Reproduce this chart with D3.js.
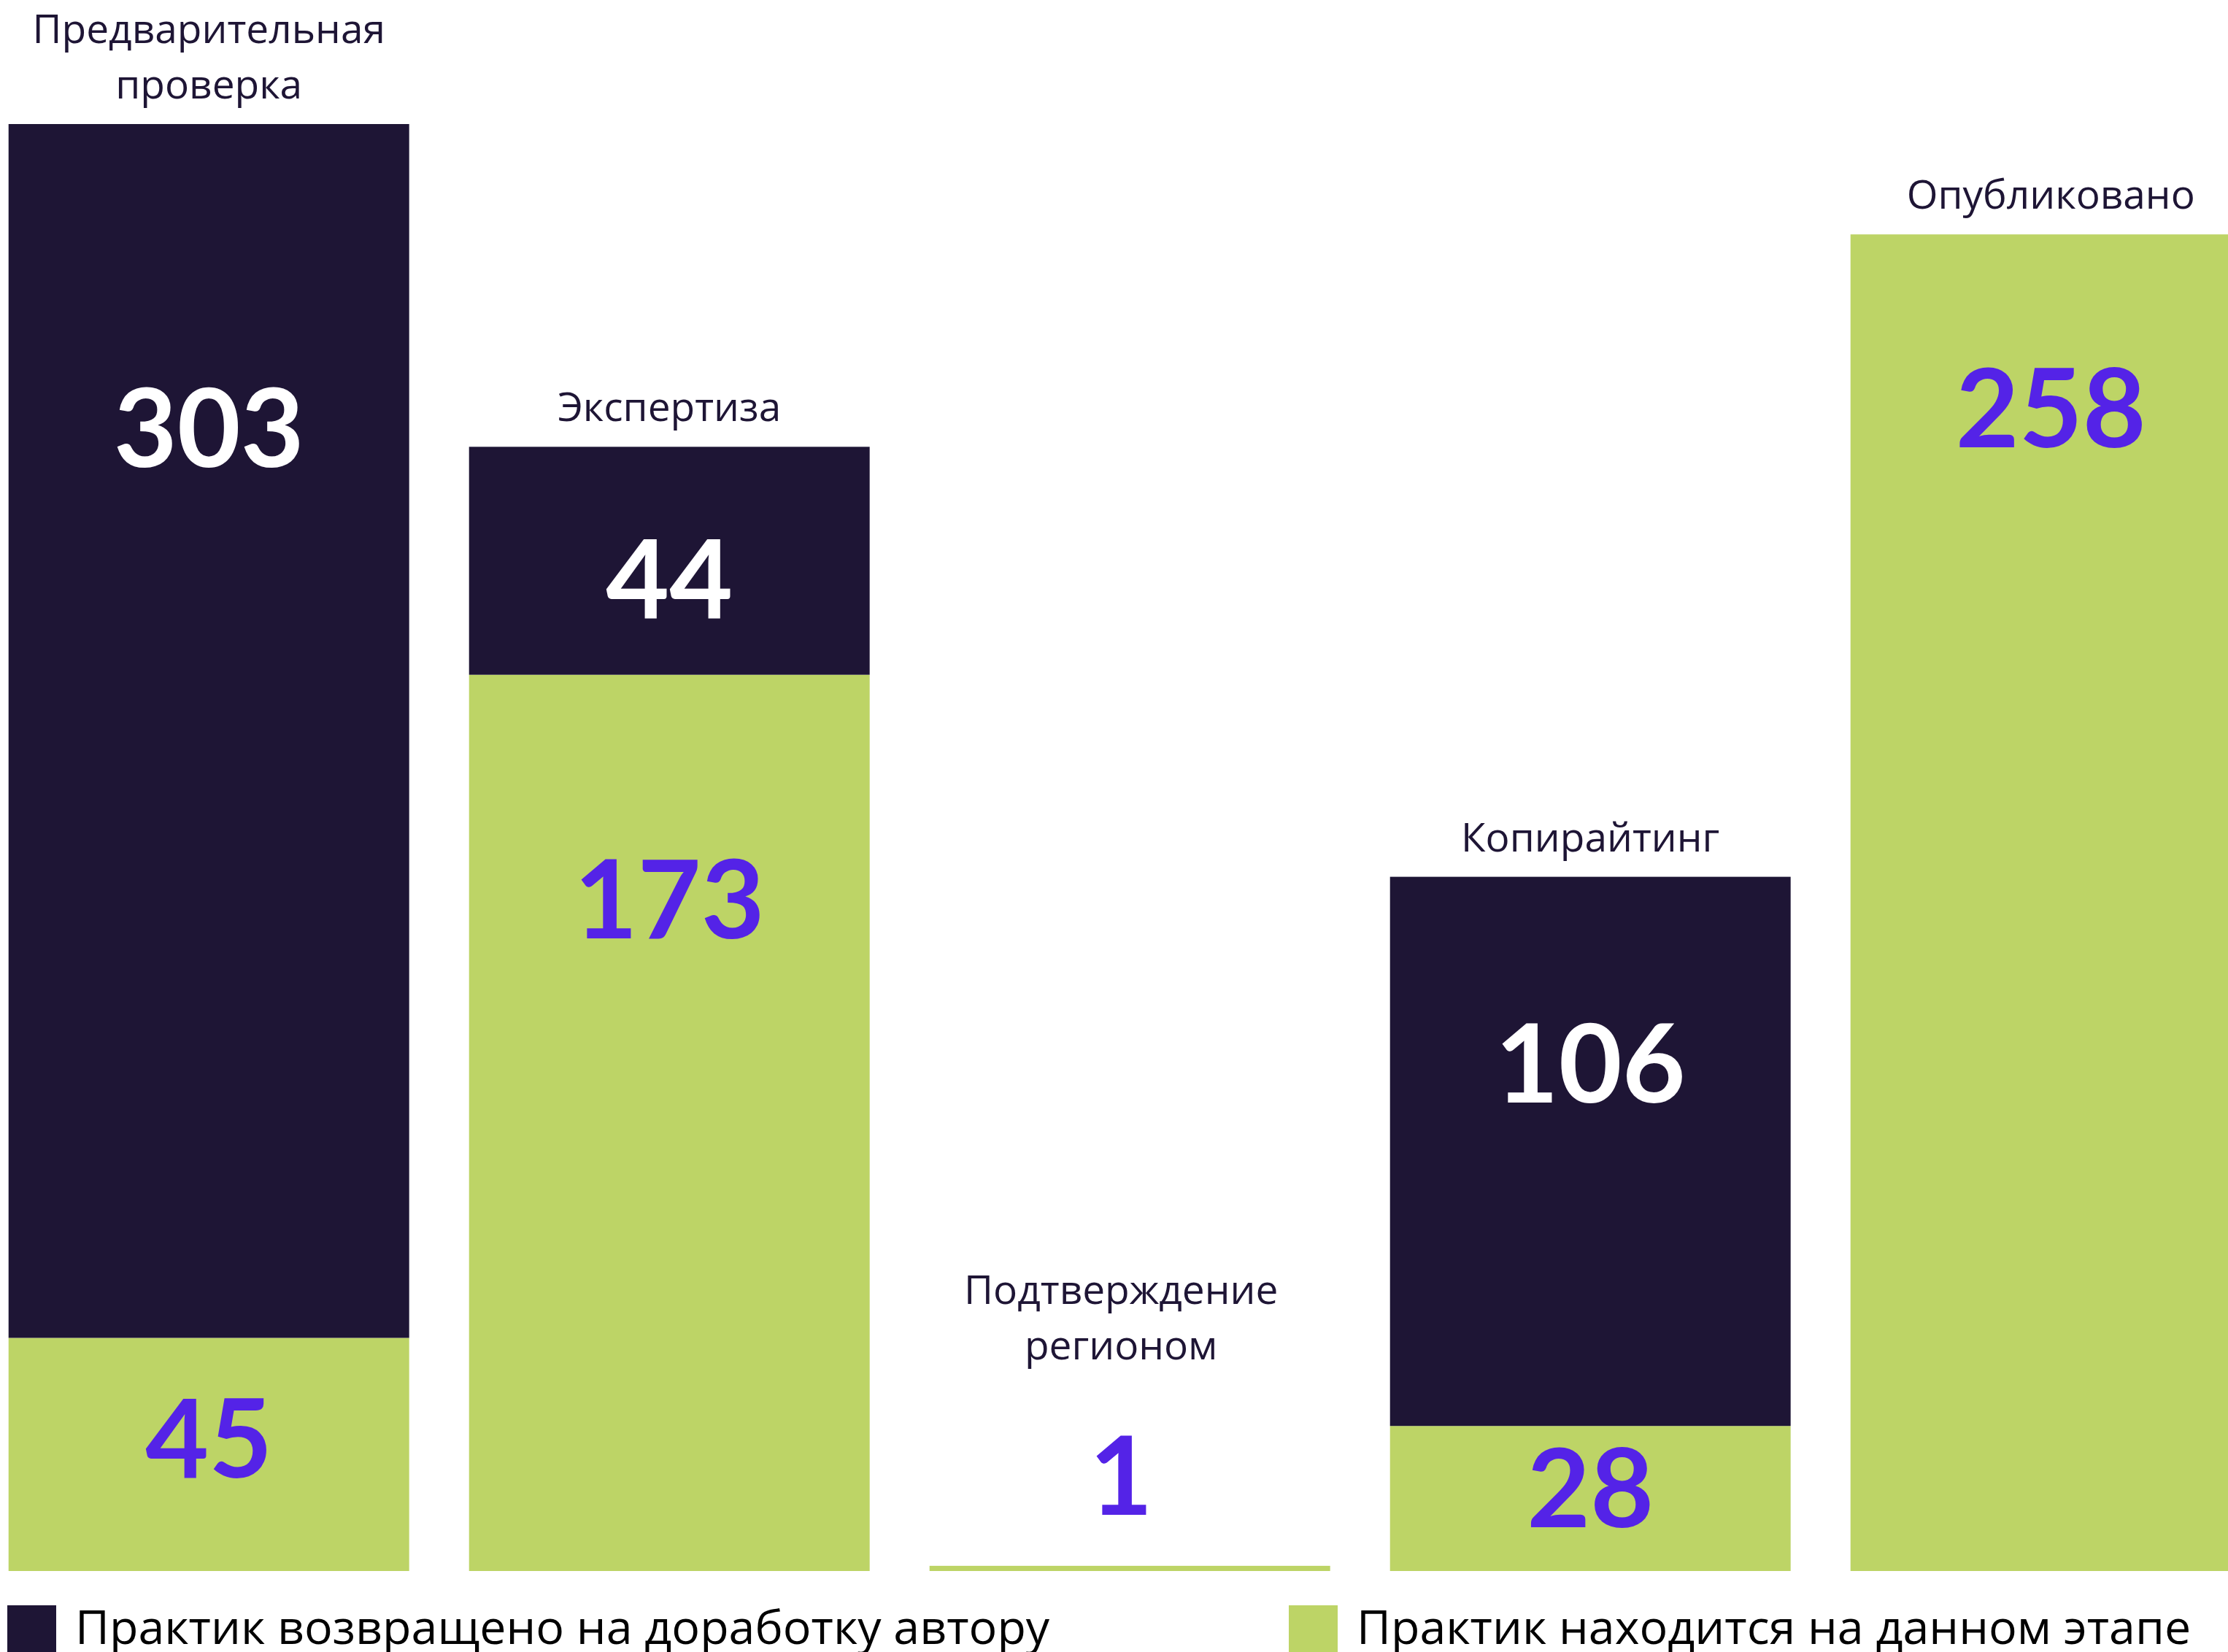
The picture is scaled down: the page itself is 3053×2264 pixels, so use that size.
<!DOCTYPE html>
<html>
<head>
<meta charset="utf-8">
<script src="https://cdn.jsdelivr.net/npm/d3@7"></script>
<style>
  body { margin: 0; background: #fff; }
  svg { display: block; }
</style>
</head>
<body>
<div id="chart"></div>
<script>
// Chart data.
var stages = ["Предварительная проверка", "Экспертиза", "Подтверждение регионом", "Копирайтинг", "Опубликовано"];
var stageLines = [["Предварительная", "проверка"], ["Экспертиза"], ["Подтверждение", "регионом"], ["Копирайтинг"], ["Опубликовано"]];
var current = [45, 173, 1, 28, 258];
var returned = [303, 44, 0, 106, 0];
var seriesNames = ["Практик возвращено на доработку автору", "Практик находится на данном этапе"];

// Where the value sits inside its segment (fraction from the segment top).
var labelFrac = {
  current: [0.43, 0.25, 0, 0.43, 0.13],
  returned: [0.25, 0.58, 0, 0.34, 0]
};

var W = 3053, H = 2264;
var dark = "#1e1535", green = "#bdd466", purple = "#5423e7";

var table = stages.map(function(s, i) {
  return { stage: s, lines: stageLines[i], current: current[i], returned: returned[i] };
});

var stack = d3.stack().keys(["current", "returned"]);
var series = stack(table);

var xScale = d3.scaleBand()
  .domain(stages)
  .range([-29.3, -29.3 + 5 * 631])
  .paddingInner(0.13)
  .paddingOuter(0.065);

// The axis stops a bit under 280, so the first bar runs out of the top and gets cut.
var yScale = d3.scaleLinear()
  .domain([0, 279.3])
  .range([2153, 170])
  .clamp(true);

var svg = d3.select("#chart").append("svg")
  .attr("width", W)
  .attr("height", H);

var colors = { current: green, returned: dark };

var layers = svg.selectAll(".layer")
  .data(series)
  .enter().append("g")
  .attr("class", "layer")
  .attr("fill", function(d) { return colors[d.key]; });

layers.selectAll("rect")
  .data(function(d) { return d; })
  .enter().append("rect")
  .filter(function(d) { return d[1] > d[0]; })
  .attr("x", function(d) { return xScale(d.data.stage); })
  .attr("width", xScale.bandwidth())
  .attr("y", function(d) { return yScale(d[1]); })
  .attr("height", function(d) { return yScale(d[0]) - yScale(d[1]); });

// Value labels.
var valueSize = 150;
var valueFont = "Lato, 'Open Sans', sans-serif";
var tops = {}; // top of the stuff drawn for each stage, for placing the stage name

series.forEach(function(layer) {
  layer.forEach(function(d, i) {
    var v = d[1] - d[0];
    if (v <= 0) return;
    var top = yScale(d[1]), bottom = yScale(d[0]);
    var h = bottom - top;
    var cx = xScale(d.data.stage) + xScale.bandwidth() / 2;
    var baseline, fill;
    if (h < 60) {
      // tiny bar: put the number above it
      baseline = top - 70;
      fill = purple;
      cx -= 12;
      tops[d.data.stage] = baseline - valueSize * 0.717 - 105;
    } else {
      var cy = top + h * labelFrac[layer.key][i];
      baseline = cy + valueSize * 0.717 / 2;
      fill = layer.key === "returned" ? "#ffffff" : purple;
      tops[d.data.stage] = Math.min(tops[d.data.stage] || Infinity, top - 35);
    }
    svg.append("text")
      .attr("x", cx)
      .attr("y", baseline)
      .attr("text-anchor", "middle")
      .style("font-family", valueFont)
      .style("font-weight", 700)
      .style("font-size", valueSize + "px")
      .style("fill", fill)
      .text(v);
  });
});

// Stage names above the bars.
var nameSize = 55, lineGap = 76;
table.forEach(function(d) {
  var cx = xScale(d.stage) + xScale.bandwidth() / 2;
  if (d.current + d.returned < 5) cx -= 12;
  var last = tops[d.stage];
  var n = d.lines.length;
  var t = svg.append("text")
    .attr("text-anchor", "middle")
    .style("font-family", "'Open Sans', sans-serif")
    .style("font-size", nameSize + "px")
    .style("fill", dark);
  d.lines.forEach(function(line, j) {
    t.append("tspan")
      .attr("x", cx)
      .attr("y", last - (n - 1 - j) * lineGap)
      .text(line);
  });
});

// Legend.
var legendX = [10, 1766];
var legend = svg.selectAll(".legend")
  .data(seriesNames)
  .enter().append("g")
  .attr("class", "legend")
  .attr("transform", function(d, i) { return "translate(" + legendX[i] + ",2200)"; });

legend.append("rect")
  .attr("width", 67)
  .attr("height", 68)
  .attr("fill", function(d, i) { return i === 0 ? dark : green; });

legend.append("text")
  .attr("x", 93)
  .attr("y", 53)
  .style("font-family", "'Open Sans', sans-serif")
  .style("font-size", "64.5px")
  .style("fill", "#000")
  .text(function(d) { return d; });
</script>
</body>
</html>
